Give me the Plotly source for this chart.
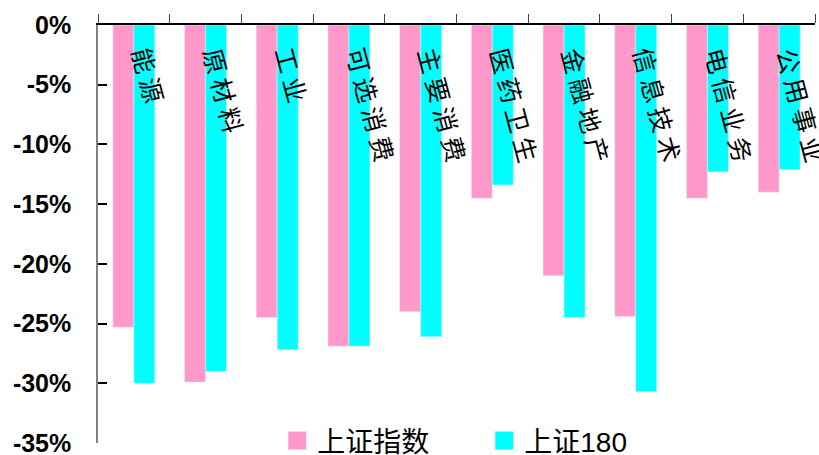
import plotly.graph_objects as go

categories = ["能源", "原材料", "工业", "可选消费", "主要消费", "医药卫生", "金融地产", "信息技术", "电信业务", "公用事业"]
sh_index = [-25.3, -29.9, -24.5, -26.9, -24.0, -14.5, -21.0, -24.4, -14.5, -14.0]
sh_180 = [-30.0, -29.0, -27.2, -26.9, -26.1, -13.4, -24.5, -30.7, -12.3, -12.1]
series_names = ["上证指数", "上证180"]
tick_vals = [0, -5, -10, -15, -20, -25, -30, -35]
tick_text = ["0%", "-5%", "-10%", "-15%", "-20%", "-25%", "-30%", "-35%"]

PINK = "#FF99CC"
CYAN = "#00FFFF"

fig = go.Figure()
fig.add_trace(go.Bar(x=categories, y=sh_index, name=series_names[0], marker_color=PINK, showlegend=False))
fig.add_trace(go.Bar(x=categories, y=sh_180, name=series_names[1], marker_color=CYAN, showlegend=False))
# legend entries with larger square symbols
for nm, col in zip(series_names, [PINK, CYAN]):
    fig.add_trace(go.Scatter(x=[None], y=[None], mode="markers", name=nm,
                             marker=dict(symbol="square", size=20, color=col,
                                         line=dict(color=col, width=2))))

for c in categories:
    fig.add_annotation(x=c, y=0, xref="x", yref="y", text=" ".join(list(c)),
                       showarrow=False, textangle=75, xanchor="left", yanchor="top",
                       xshift=-12, yshift=-16,
                       font=dict(family="Noto Sans CJK SC", size=25, color="black"))

fig.update_layout(
    width=819, height=455,
    margin=dict(l=98, r=4, t=25, b=12, autoexpand=False),
    plot_bgcolor="white", paper_bgcolor="white",
    barmode="group", bargap=0.414, bargroupgap=0,
    showlegend=True,
    legend=dict(orientation="h", x=0.25, xanchor="left", y=0.005, yanchor="middle",
                font=dict(family="Liberation Sans, Noto Sans CJK SC", size=28, color="black"),
                itemsizing="trace", entrywidth=162, entrywidthmode="pixels",
                bgcolor="rgba(0,0,0,0)"),
    xaxis=dict(side="top", showline=True, linecolor="black", linewidth=1.5,
               range=[-0.5, len(categories) - 0.5],
               ticks="outside", tickson="boundaries", ticklen=9, tickcolor="#444", tickwidth=1,
               showticklabels=False, showgrid=False, zeroline=False, automargin=False),
    yaxis=dict(range=[-35, 0], tickvals=tick_vals, ticktext=tick_text,
               showline=True, linecolor="#808080", linewidth=1.5,
               ticks="inside", ticklen=9, tickcolor="black", tickwidth=1.5,
               ticklabelstandoff=20, automargin=False, ticklabeloverflow="allow",
               tickfont=dict(family="Liberation Sans", size=25, color="black", weight="bold"),
               showgrid=False, zeroline=False),
)

# remove the default 8px page margin so the figure fills the window exactly
fig.write_html("out.html", config={"displayModeBar": False},
               post_script="document.body.style.margin='0px';document.body.style.overflow='hidden';")
